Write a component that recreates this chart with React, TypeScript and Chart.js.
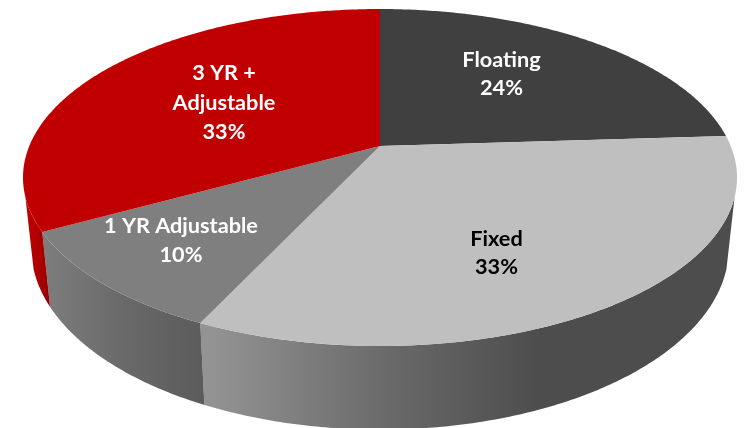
import { useEffect, useRef } from "react";
import { Chart, registerables } from "chart.js";

Chart.register(...registerables);

// Portfolio mix, clockwise from twelve o'clock.
const categories = ["Floating", "Fixed", "1 YR Adjustable", "3 YR + Adjustable"];
const shares = [24, 33, 10, 33];
const faceColors = ["#404040", "#BFBFBF", "#7F7F7F", "#C00000"];

// Label lines per slice (name may wrap) and their text colours.
const labelLines = [["Floating"], ["Fixed"], ["1 YR Adjustable"], ["3 YR +", "Adjustable"]];
const labelColors = ["#FFFFFF", "#000000", "#FFFFFF", "#FFFFFF"];
const labelAnchors = [
  { x: 501.5, y: 60.5 },
  { x: 496.5, y: 239.5 },
  { x: 181, y: 226.5 },
  { x: 224, y: 73.5 },
];
const labelLeading = [28, 28, 29, 29.5];

// Side-wall shading, as [x, colour] stops running left to right.
const wallStops: [number, string][][] = [
  [],
  [[212, "#939393"], [400, "#676767"], [540, "#4D4D4D"], [740, "#4D4D4D"]],
  [[48, "#7C7C7C"], [130, "#686868"], [212, "#5A5A5A"]],
  [[26, "#C00000"], [38, "#B00000"], [53, "#8A0000"]],
];

// Perspective disc: hub position, radii and the foreshortening towards the viewer.
const HUB_X = 380;
const HUB_Y = 146;
const RADIUS_X = 350.7;
const RADIUS_Y = 162.6;
const TILT = 0.187;
const WALL_DEPTH = 68;
const BASE_SHRINK = 0.977;
const WALL_HIDDEN = 0.3; // radians of the near half that stay behind the rim

function rimPoint(angle: number, base: boolean) {
  const u = Math.cos(angle);
  const v = Math.sin(angle);
  const w = 1 - TILT * v;
  const shrink = base ? BASE_SHRINK : 1;
  return {
    x: HUB_X + (RADIUS_X * shrink * u) / w,
    y: HUB_Y + (RADIUS_Y * v + (base ? WALL_DEPTH : 0)) / w,
  };
}

function sampleAngles(from: number, to: number) {
  const steps = Math.max(2, Math.ceil(Math.abs(to - from) / 0.01));
  const angles: number[] = [];
  for (let i = 0; i <= steps; i++) angles.push(from + ((to - from) * i) / steps);
  return angles;
}

const tiltedPie = {
  id: "tiltedPie",
  beforeDatasetsDraw(chart: Chart) {
    const { ctx } = chart;
    const arcs = chart.getDatasetMeta(0).data as any[];

    // Side walls first, so the top faces sit over their upper edge.
    arcs.forEach((arc, i) => {
      const from = Math.max(arc.startAngle, WALL_HIDDEN);
      const to = Math.min(arc.endAngle, Math.PI - WALL_HIDDEN);
      if (to <= from || wallStops[i].length === 0) return;
      const angles = sampleAngles(from, to);
      const stops = wallStops[i];
      const first = stops[0][0];
      const last = stops[stops.length - 1][0];
      const shade = ctx.createLinearGradient(first, 0, last, 0);
      stops.forEach(([x, color]) => shade.addColorStop((x - first) / (last - first), color));
      ctx.beginPath();
      angles.forEach((a, k) => {
        const p = rimPoint(a, false);
        if (k === 0) ctx.moveTo(p.x, p.y);
        else ctx.lineTo(p.x, p.y);
      });
      [...angles].reverse().forEach((a) => {
        const p = rimPoint(a, true);
        ctx.lineTo(p.x, p.y);
      });
      ctx.closePath();
      ctx.fillStyle = shade;
      ctx.fill();
    });

    // Top faces.
    arcs.forEach((arc, i) => {
      ctx.beginPath();
      ctx.moveTo(HUB_X, HUB_Y);
      sampleAngles(arc.startAngle, arc.endAngle).forEach((a) => {
        const p = rimPoint(a, false);
        ctx.lineTo(p.x, p.y);
      });
      ctx.closePath();
      ctx.fillStyle = faceColors[i];
      ctx.fill();
    });

    // Slice captions: name lines, then the share.
    ctx.font = 'bold 21.7px Lato, "Open Sans", sans-serif';
    ctx.textAlign = "center";
    ctx.textBaseline = "middle";
    categories.forEach((_, i) => {
      const lines = [...labelLines[i], `${shares[i]}%`];
      ctx.fillStyle = labelColors[i];
      lines.forEach((line, k) => {
        ctx.fillText(line, labelAnchors[i].x, labelAnchors[i].y + k * labelLeading[i]);
      });
    });
    return false;
  },
};

export default function App() {
  const canvasRef = useRef<HTMLCanvasElement>(null);

  useEffect(() => {
    const chart = new Chart(canvasRef.current!, {
      type: "pie",
      data: {
        labels: categories,
        datasets: [{ data: shares, backgroundColor: faceColors, borderWidth: 0 }],
      },
      options: {
        animation: false,
        responsive: false,
        plugins: { legend: { display: false }, tooltip: { enabled: false } },
      },
      plugins: [tiltedPie],
    });
    return () => chart.destroy();
  }, []);

  return (
    <canvas
      ref={canvasRef}
      width={746}
      height={428}
      style={{ position: "absolute", left: 0, top: 0, display: "block" }}
    />
  );
}
